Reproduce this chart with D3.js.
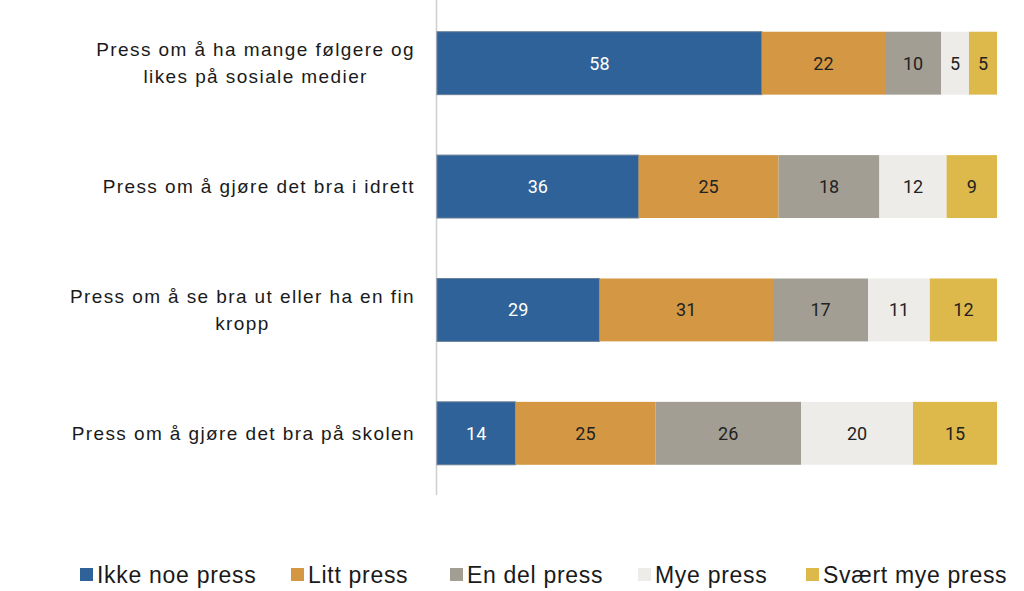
<!DOCTYPE html>
<html><head><meta charset="utf-8">
<script src="https://cdn.jsdelivr.net/npm/d3@7"></script>
<style>
html,body{margin:0;padding:0;background:#fff;}
svg{display:block;}
</style></head>
<body>
<svg id="c" width="1024" height="591"></svg>
<script>
const categories = [
  "Press om å ha mange følgere og likes på sosiale medier",
  "Press om å gjøre det bra i idrett",
  "Press om å se bra ut eller ha en fin kropp",
  "Press om å gjøre det bra på skolen"
];
const categoryLines = [
  ["Press om å ha mange følgere og", "likes på sosiale medier"],
  ["Press om å gjøre det bra i idrett"],
  ["Press om å se bra ut eller ha en fin", "kropp"],
  ["Press om å gjøre det bra på skolen"]
];
const seriesNames = ["Ikke noe press", "Litt press", "En del press", "Mye press", "Svært mye press"];
const ikkeNoe = [58, 36, 29, 14];
const litt = [22, 25, 31, 25];
const enDel = [10, 18, 17, 26];
const mye = [5, 12, 11, 20];
const svaertMye = [5, 9, 12, 15];
const colors = ["#2e6299", "#d49844", "#a39e93", "#edece8", "#ddb84a"];
const labelColors = ["#ffffff", "#222222", "#222222", "#222222", "#222222"];

const seriesValues = [ikkeNoe, litt, enDel, mye, svaertMye];
const data = categories.map((c, i) => {
  const o = {cat: c};
  seriesNames.forEach((s, j) => o[s] = seriesValues[j][i]);
  return o;
});
const stack = d3.stack().keys(seriesNames)(data);

const svg = d3.select("#c");
const x = d3.scaleLinear().domain([0, 100]).range([437, 997]);
const y = d3.scaleBand().domain(categories).range([1.5, 495]).paddingInner(0.49).paddingOuter(0.245);

// axis line
svg.append("line").attr("x1", 436.5).attr("x2", 436.5).attr("y1", 0).attr("y2", 495)
  .attr("stroke", "#cfcfcf").attr("stroke-width", 1.5);

const g = svg.append("g");
stack.forEach((layer, j) => {
  const lg = g.append("g");
  lg.selectAll("rect").data(layer).join("rect")
    .attr("x", d => x(d[0]))
    .attr("width", d => x(d[1]) - x(d[0]))
    .attr("y", d => y(d.data.cat))
    .attr("height", y.bandwidth())
    .attr("fill", colors[j])
    .attr("stroke", j === 0 ? "#6a7f96" : "none")
    .attr("stroke-width", j === 0 ? 1 : 0);
  lg.selectAll("text").data(layer).join("text")
    .attr("x", d => (x(d[0]) + x(d[1])) / 2)
    .attr("y", d => y(d.data.cat) + y.bandwidth() / 2)
    .attr("dy", "0.36em")
    .attr("text-anchor", "middle")
    .attr("font-family", "Roboto, 'Liberation Sans', sans-serif")
    .attr("font-size", 18)
    .attr("fill", labelColors[j])
    .text(d => d[1] - d[0]);
});

// category labels
const rightEdge = 415;
categories.forEach((c, i) => {
  const lines = categoryLines[i];
  const cy = y(c) + y.bandwidth() / 2;
  const tg = svg.append("g");
  const texts = lines.map((ln, k) => tg.append("text")
    .attr("y", cy + (k - (lines.length - 1) / 2) * 27)
    .attr("dy", "0.35em")
    .attr("font-family", "'Liberation Sans', Arial, sans-serif")
    .attr("font-size", 19)
    .attr("letter-spacing", "1.4px")
    .attr("fill", "#1a1a1a")
    .text(ln));
  const widths = texts.map(t => t.node().getComputedTextLength());
  const maxW = d3.max(widths);
  const center = rightEdge - maxW / 2;
  texts.forEach(t => t.attr("x", center).attr("text-anchor", "middle"));
});

// legend
const legendX = [80, 291, 450, 638, 806];
const lg = svg.append("g");
seriesNames.forEach((s, j) => {
  lg.append("rect").attr("x", legendX[j]).attr("y", 568).attr("width", 13).attr("height", 13)
    .attr("fill", colors[j]);
  lg.append("text").attr("x", legendX[j] + 17).attr("y", 575).attr("dy", "0.36em")
    .attr("font-family", "'Liberation Sans', Arial, sans-serif")
    .attr("font-size", 23)
    .attr("letter-spacing", "0.7px")
    .attr("fill", "#1a1a1a")
    .text(s);
});
</script>
</body></html>
